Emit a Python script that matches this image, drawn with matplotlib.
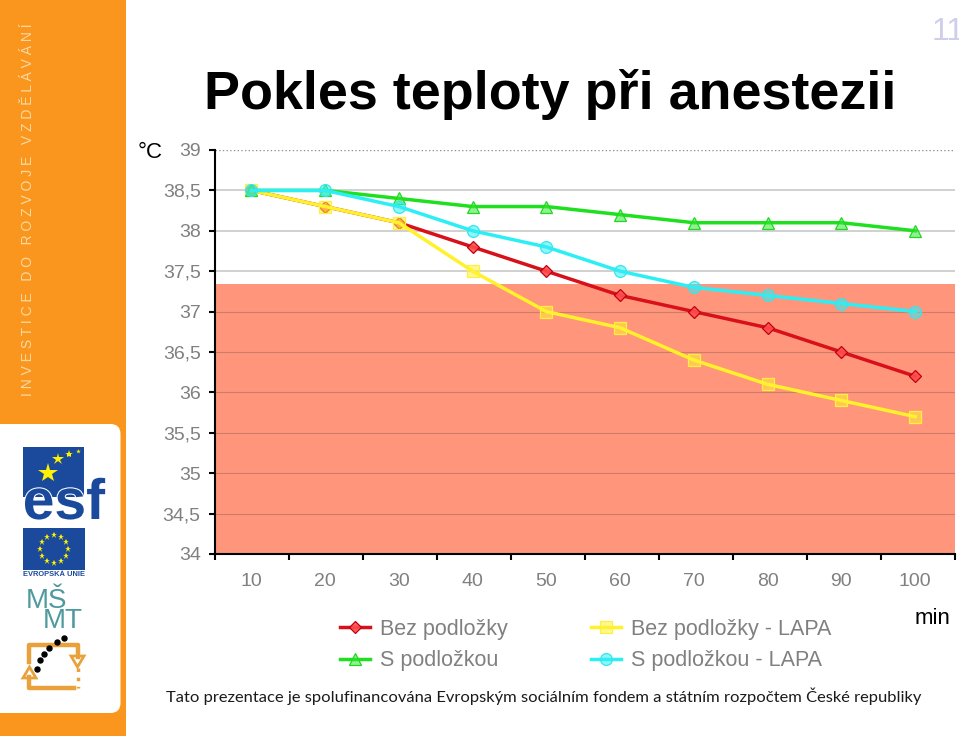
import numpy as np
import matplotlib
matplotlib.use('Agg')
import matplotlib.pyplot as plt
import matplotlib.patheffects as pe
from matplotlib.patches import Rectangle, FancyBboxPatch, Polygon

minutes = [10, 20, 30, 40, 50, 60, 70, 80, 90, 100]
bez_podlozky = [38.5, 38.3, 38.1, 37.8, 37.5, 37.2, 37.0, 36.8, 36.5, 36.2]
bez_lapa = [38.5, 38.3, 38.1, 37.5, 37.0, 36.8, 36.4, 36.1, 35.9, 35.7]
s_podlozkou = [38.5, 38.5, 38.4, 38.3, 38.3, 38.2, 38.1, 38.1, 38.1, 38.0]
s_lapa = [38.5, 38.5, 38.3, 38.0, 37.8, 37.5, 37.3, 37.2, 37.1, 37.0]
y_ticks = [34, 34.5, 35, 35.5, 36, 36.5, 37, 37.5, 38, 38.5, 39]
limit_temp = 37.34

ORANGE = '#FA961E'
GREY = '#808080'
BLUE = '#1B4A9C'
STAR = '#FFF200'
TEAL = '#4F9A9E'
LOOP = '#E9A23B'
plt.rcParams['font.family'] = ['Liberation Sans', 'DejaVu Sans']

fig = plt.figure(figsize=(9.59, 7.36), dpi=100)
W, H = 959, 736

# overlay in pixel coordinates for the slide decoration
bg = fig.add_axes([0, 0, 1, 1])
bg.set_xlim(0, W)
bg.set_ylim(H, 0)
bg.axis('off')
bg.add_patch(Rectangle((0, 0), 126, H, color=ORANGE, lw=0))
bg.add_patch(FancyBboxPatch((-20, 424), 140.5, 289, boxstyle='round,pad=0,rounding_size=10',
                            fc='white', ec='none'))
bg.text(28, 210, 'I N V E S T I C E   D O   R O Z V O J E   V Z D Ě L Á V Á N Í', rotation=90,
        color='#FBD9A0', fontsize=10, ha='center', va='center')
bg.text(150.5, 153, '°C', fontsize=16, color='black', ha='center', va='center')
bg.text(550, 109, 'Pokles teploty při anestezii', fontsize=38.8, fontweight='bold', color='black',
        ha='center', va='baseline')
bg.text(948, 32, '11', fontsize=23, color='#CFCFEC', ha='center', va='center', family='Liberation Sans')
bg.text(933, 618, 'min', fontsize=16, color='black', ha='center', va='center')
bg.text(544, 696, 'Tato prezentace je spolufinancována Evropským sociálním fondem a státním rozpočtem České republiky',
        fontsize=11.85, color='#1a1a1a', ha='center', va='center', family='Lato')

# ESF logo
bg.add_patch(Rectangle((23, 447), 61, 50, color=BLUE, lw=0))
bg.text(64, 519, 'esf', fontsize=41, fontweight='bold', color=BLUE, ha='center', va='baseline',
        path_effects=[pe.withStroke(linewidth=1.5, foreground='white')])
for sx, sy, size in [(48, 473, 15), (58, 459, 9), (69, 454, 6), (78, 451, 3.5)]:
    bg.plot([sx], [sy], marker='*', color=STAR, ms=size, mew=0, ls='none')

# EU flag
bg.add_patch(Rectangle((23, 528), 62, 42, color=BLUE, lw=0))
angles = np.deg2rad(np.arange(0, 360, 30))
bg.plot(54 + 14 * np.cos(angles), 549 + 14 * np.sin(angles), ls='none', marker='*', color=STAR, ms=4.5, mew=0)
bg.text(54, 575, 'EVROPSKÁ UNIE', fontsize=5.4, fontweight='bold', color=BLUE, ha='center', va='center')

# MSMT logo
bg.text(46, 608, 'MŠ', fontsize=20, color=TEAL, ha='center', va='baseline')
bg.text(63, 628, 'MT', fontsize=20, color=TEAL, ha='center', va='baseline')

# loop icon
bg.plot([29, 29, 78, 78], [662, 645, 645, 657], color=LOOP, lw=3.2)
bg.plot([29, 29, 74], [677, 688, 688], color=LOOP, lw=3.2)
bg.plot([78, 78], [668, 688], color=LOOP, lw=2.5, ls=':')
bg.add_patch(Polygon([[23, 678], [36, 678], [29.5, 667]], fc='white', ec=LOOP, lw=2))
bg.add_patch(Polygon([[71, 656], [84, 656], [77.5, 667]], fc='white', ec=LOOP, lw=2))
bg.plot([37, 40, 44, 49, 57, 64], [669, 660, 654, 648, 642, 638], ls='none', marker='o', color='black', ms=3.6)

# chart
left, right, top, bottom = 214.5, 955, 150, 554
ax = fig.add_axes([left / W, 1 - bottom / H, (right - left) / W, (bottom - top) / H])
ax.patch.set_alpha(0)
x = np.arange(len(minutes))
ax.set_xlim(-0.5, 9.54)
ax.set_ylim(34, 39)
ax.axhspan(34, limit_temp, color='#FF967C', lw=0, zorder=0)
ax.set_yticks(y_ticks)
ax.set_yticklabels([f'{v:g}'.replace('.', ',') for v in y_ticks])
ax.set_xticks(x)
ax.set_xticklabels(minutes)
ax.set_xticks(np.linspace(-0.5, 9.54, 11), minor=True)
ax.tick_params(axis='x', which='major', length=0, pad=14, labelsize=14, labelcolor=GREY)
ax.tick_params(axis='x', which='minor', length=4, width=1.5, direction='out', color='black')
ax.tick_params(axis='y', length=4, width=1.5, pad=6, labelsize=14, labelcolor=GREY)
# gridlines stay visible on the red band, only darker
for v in y_ticks[1:]:
    if v == 39:
        ax.axhline(v, color='#909090', lw=1, ls=':', zorder=1)
    elif v > limit_temp:
        ax.axhline(v, color='#C8C8C8', lw=1.2, zorder=1)
    else:
        ax.axhline(v, color='#CC7C68', lw=0.8, zorder=1)
for side in ['top', 'right']:
    ax.spines[side].set_visible(False)
ax.spines['left'].set_linewidth(1.5)
ax.spines['bottom'].set_linewidth(1.5)

series = [
    ('Bez podložky', bez_podlozky, '#D8101A', 'D', (1.0, 0.3, 0.3, 0.9), '#C00010', 6.5),
    ('Bez podložky - LAPA', bez_lapa, '#FFF22A', 's', (1.0, 0.95, 0.2, 0.55), '#FFF040', 8),
    ('S podložkou', s_podlozkou, '#1EE01E', '^', (0.2, 0.9, 0.2, 0.55), '#20D820', 8.5),
    ('S podložkou - LAPA', s_lapa, '#2CEFF5', 'o', (0.2, 0.93, 0.95, 0.55), '#30E8F0', 8.5),
]
handles = {}
for name, vals, col, mk, face, edge, size in series:
    line, = ax.plot(x, vals, color=col, lw=2.5, marker=mk, mfc=face, mec=edge, mew=0.9,
                    ms=size, zorder=3, label=name, clip_on=False)
    handles[name] = line
order = ['Bez podložky', 'S podložkou', 'Bez podložky - LAPA', 'S podložkou - LAPA']
fig.legend([handles[n] for n in order], order, ncol=2, loc='center', bbox_to_anchor=(585.5 / W, 1 - 645 / H),
           frameon=False, fontsize=15.5, labelcolor=GREY, columnspacing=3.85, handlelength=1.4,
           labelspacing=0.47, handletextpad=0.46)

fig.savefig('out.png', dpi=100)
